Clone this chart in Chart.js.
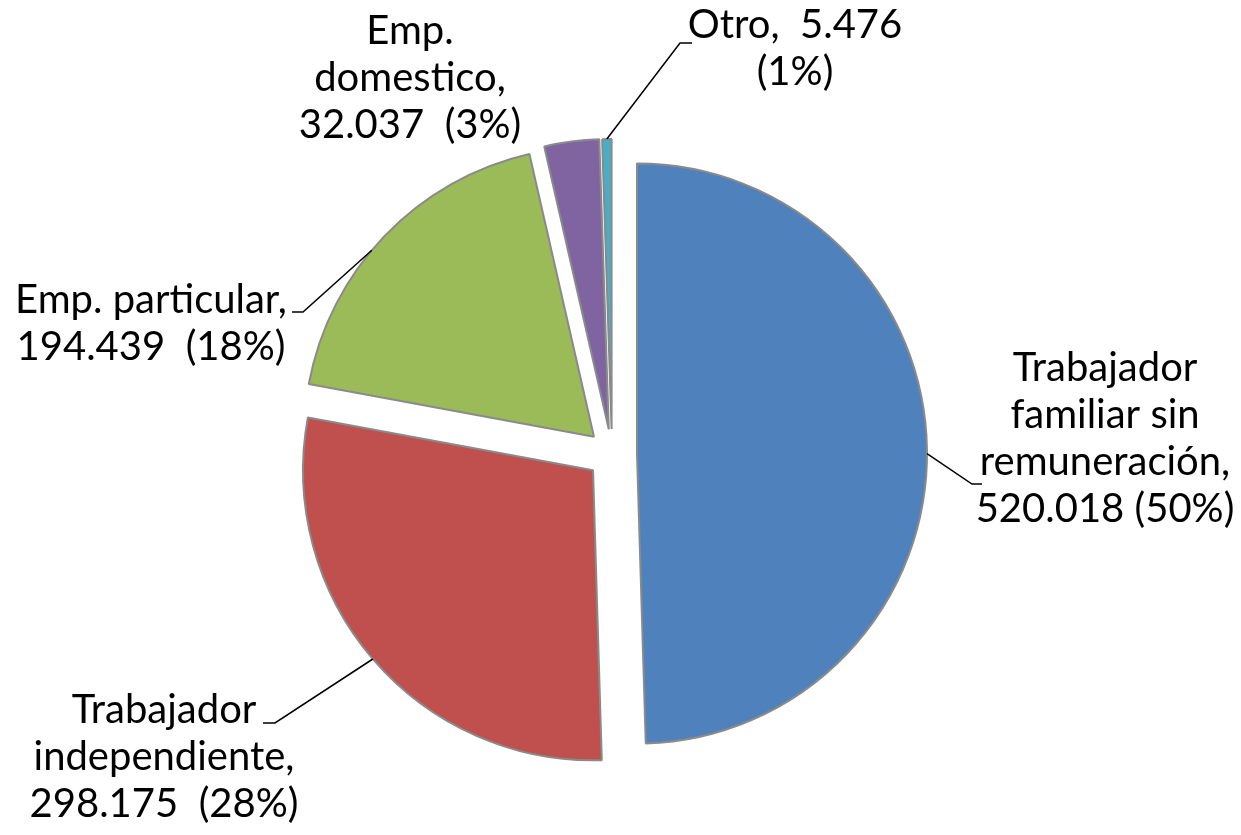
<!DOCTYPE html>
<html>
<head>
<meta charset="utf-8">
<script src="https://cdn.jsdelivr.net/npm/chart.js@4/dist/chart.umd.min.js"></script>
<style>
  html, body { margin: 0; padding: 0; background: #ffffff; }
  #wrap { width: 1241px; height: 835px; }
</style>
</head>
<body>
<div id="wrap"><canvas id="c" width="1241" height="835"></canvas></div>
<script>
// ---- data ----
const categories = [
  'Trabajador familiar sin remuneración',
  'Trabajador independiente',
  'Emp. particular',
  'Emp. domestico',
  'Otro'
];
const values = [520018, 298175, 194439, 32037, 5476];
const percentLabels = ['50%', '28%', '18%', '3%', '1%'];
const valueLabels = ['520.018', '298.175', '194.439', '32.037', '5.476'];
const labelLines = [
  ['Trabajador', 'familiar sin', 'remuneración,', '520.018 (50%)'],
  ['Trabajador', 'independiente,', '298.175  (28%)'],
  ['Emp. particular,', '194.439  (18%)'],
  ['Emp.', 'domestico,', '32.037  (3%)'],
  ['Otro,  5.476', '(1%)']
];
const colors = ['#4F81BD', '#C0504D', '#9BBB59', '#8064A2', '#4BACC6'];

// ---- layout (styles / positions, relative to pie center) ----
const EXPLODE = 25;
const FONT = '40px Lato, "Open Sans", sans-serif';
const LINE_H = 47;
const labelPos = [
  { dx: 493, dy: -73, arcDeg: 90, leader: [[360, 30], [370, 30]] },
  { dx: -448, dy: 269, arcDeg: 229.4, leader: [[-337, 269], [-349, 269]] },
  { dx: -461, dy: -141, arcDeg: 310, leader: [[-309, -142], [-320, -142]] },
  { dx: -202, dy: -410, arcDeg: null, leader: null },
  { dx: 183, dy: -416, arcDeg: 359.06, leader: [[68, -411], [80, -411]] }
];

const explodePlugin = {
  id: 'explode',
  afterDatasetUpdate(chart, args) {
    const meta = args.meta;
    meta.data.forEach(arc => {
      const mid = (arc.startAngle + arc.endAngle) / 2;
      const cx = (chart.chartArea.left + chart.chartArea.right) / 2;
      const cy = (chart.chartArea.top + chart.chartArea.bottom) / 2;
      arc.x = cx + Math.cos(mid) * EXPLODE;
      arc.y = cy + Math.sin(mid) * EXPLODE;
    });
  }
};

const labelPlugin = {
  id: 'pieLabels',
  afterDraw(chart) {
    const ctx = chart.ctx;
    const meta = chart.getDatasetMeta(0);
    const cx = (chart.chartArea.left + chart.chartArea.right) / 2;
    const cy = (chart.chartArea.top + chart.chartArea.bottom) / 2;
    ctx.save();
    ctx.font = FONT;
    ctx.fillStyle = '#000';
    ctx.textAlign = 'center';
    ctx.textBaseline = 'alphabetic';
    labelLines.forEach((lines, i) => {
      const p = labelPos[i];
      lines.forEach((t, k) => {
        ctx.fillText(t, cx + p.dx, cy + p.dy + k * LINE_H);
      });
      if (p.leader) {
        const arc = meta.data[i];
        const a = (p.arcDeg - 90) * Math.PI / 180;
        const sx = arc.x + Math.cos(a) * arc.outerRadius;
        const sy = arc.y + Math.sin(a) * arc.outerRadius;
        ctx.beginPath();
        ctx.strokeStyle = '#000';
        ctx.lineWidth = 1.5;
        ctx.moveTo(sx, sy);
        p.leader.forEach(pt => ctx.lineTo(cx + pt[0], cy + pt[1]));
        ctx.stroke();
      }
    });
    ctx.restore();
  }
};

new Chart(document.getElementById('c'), {
  type: 'pie',
  data: {
    labels: categories,
    datasets: [{
      data: values,
      backgroundColor: colors,
      borderColor: '#8a8a8a',
      borderWidth: 2
    }]
  },
  options: {
    responsive: false,
    animation: false,
    radius: 290,
    layout: { padding: { top: 73, right: 17, left: 0, bottom: 0 } },
    plugins: {
      legend: { display: false },
      tooltip: { enabled: false }
    }
  },
  plugins: [explodePlugin, labelPlugin]
});
</script>
</body>
</html>
